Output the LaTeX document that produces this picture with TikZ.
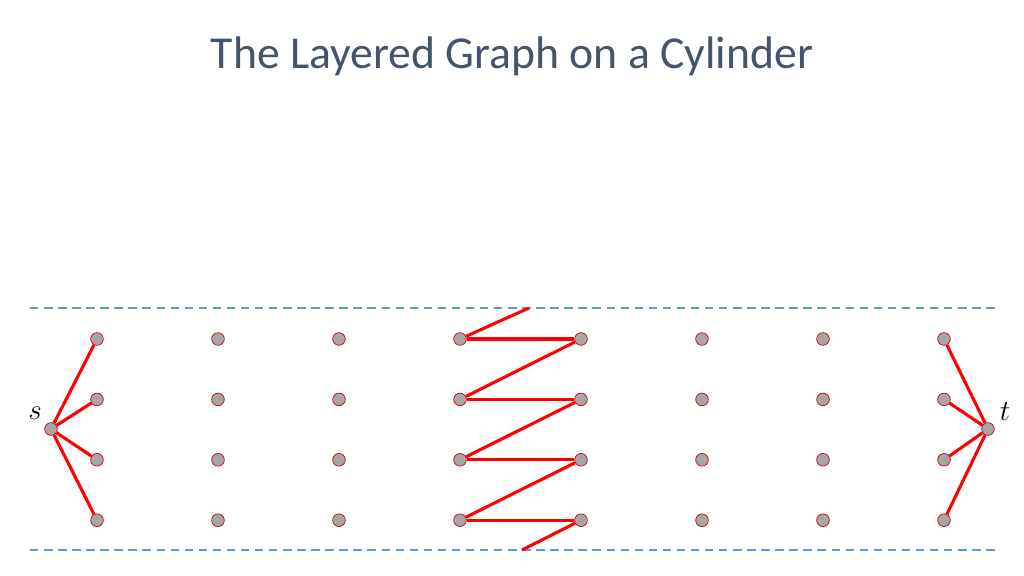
\documentclass[tikz,border=0pt]{standalone}
\usepackage{fontspec}
\setmainfont{Carlito}
\usepackage{tikz}
\definecolor{titlegray}{HTML}{44546A}
\definecolor{dashblue}{HTML}{5B9BD5}
\definecolor{vertexgray}{HTML}{A6A6A6}
\tikzset{
    vertex/.style = {circle, inner sep=0pt, minimum size=9pt, draw=red!80!black, fill=vertexgray, line width=0.5pt},
    edge/.style = {red, line width=2.2pt},
    border/.style = {dashblue, line width=0.9pt, dash pattern=on 6pt off 4pt},
    heading/.style = {text=titlegray, font=\fontsize{32.5}{38}\selectfont, anchor=base},
    endlabel/.style = {font=\fontsize{21}{24}\selectfont}
}

\begin{document}
\begin{tikzpicture}[x=0.025cm, y=-0.025cm]
\useasboundingbox (0,0) rectangle (1024,576);
\node (title) [heading] at (512,69) {The Layered Graph on a Cylinder};

% cylinder borders
\coordinate (topL) at (30,308);
\coordinate (topR) at (995,308);
\coordinate (botL) at (30,550);
\coordinate (botR) at (995,550);
\draw [border] (topL) -- (topR);
\draw [border] (botL) -- (botR);

% layers
\foreach \i in {1,...,8}
  \foreach \j in {1,...,4}
    \node (v\i-\j) [vertex] at ({97+121*(\i-1)}, {339+60.4*(\j-1)}) {};

\node (s) [vertex] at (51,429) {};
\node (t) [vertex] at (988,429) {};
\node (slabel) [endlabel] at (35,413) {$s$};
\node (tlabel) [endlabel] at (1005,412) {$t$};

\foreach \j in {1,...,4} {
  \draw [edge] (s) -- (v1-\j);
  \draw [edge] (v8-\j) -- (t);
  \draw [edge] (v4-\j) -- (v5-\j);
}
\draw [edge] (v5-1) -- (v4-2);
\draw [edge] (v5-2) -- (v4-3);
\draw [edge] (v5-3) -- (v4-4);

% wrap around the cylinder
\coordinate (wrapTop) at (529,308);
\coordinate (wrapBot) at (522,550);
\draw [edge] (v4-1) -- (wrapTop);
\draw [edge] (v5-4) -- (wrapBot);
\end{tikzpicture}
\end{document}
